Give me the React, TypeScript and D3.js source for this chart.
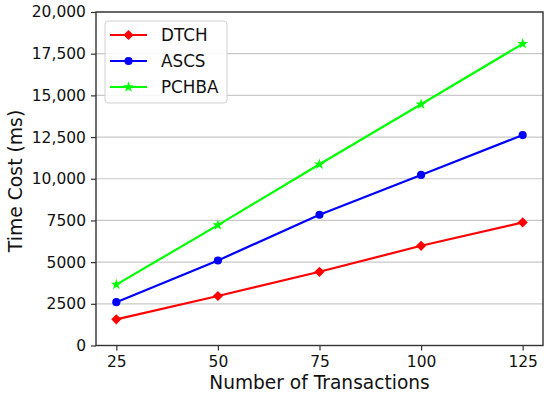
import { useEffect, useRef } from "react";
import * as d3 from "d3";

// values
const transactions = [25, 50, 75, 100, 125];
const dtch = [1570, 2970, 4420, 5980, 7380];
const ascs = [2600, 5100, 7840, 10230, 12620];
const pchba = [3650, 7220, 10870, 14470, 18090];
const yTicks = [0, 2500, 5000, 7500, 10000, 12500, 15000, 17500, 20000];

const seriesNames = ["DTCH", "ASCS", "PCHBA"];
const seriesColors = ["#ff0000", "#0000ff", "#00ff00"];

type Point = { x: number; y: number };

export default function App() {
  const ref = useRef<SVGSVGElement | null>(null);

  useEffect(() => {
    const width = 550,
      height = 395,
      margin = { top: 12, right: 7, bottom: 49.5, left: 96 };
    const svg = d3.select(ref.current);
    svg.selectAll("*").remove();

    const font = "'DejaVu Sans', sans-serif";

    const x = d3
      .scaleLinear()
      .domain([20, 130])
      .range([margin.left, width - margin.right]);
    const y = d3
      .scaleLinear()
      .domain([0, 20000])
      .range([height - margin.bottom, margin.top]);

    // horizontal grid
    svg
      .append("g")
      .selectAll("line")
      .data(yTicks)
      .enter()
      .append("line")
      .attr("x1", margin.left)
      .attr("x2", width - margin.right)
      .attr("y1", d => y(d))
      .attr("y2", d => y(d))
      .attr("stroke", "#c8c8c8")
      .attr("stroke-width", 1.2);

    // X axis
    const fmtY = (d: number) => (d >= 10000 ? d3.format(",")(d) : String(d));
    const xAxis = svg
      .append("g")
      .attr("transform", `translate(0,${height - margin.bottom})`)
      .call(d3.axisBottom(x).tickValues(transactions).tickSize(5).tickPadding(5).tickSizeOuter(0));
    xAxis.select(".domain").remove();
    xAxis.selectAll("line").attr("stroke", "#333").attr("stroke-width", 1.2);
    xAxis
      .selectAll("text")
      .attr("font-family", font)
      .attr("font-size", 15.5)
      .attr("fill", "#111");

    // Y axis
    const yAxis = svg
      .append("g")
      .attr("transform", `translate(${margin.left},0)`)
      .call(
        d3
          .axisLeft(y)
          .tickValues(yTicks)
          .tickSize(5)
          .tickPadding(5)
          .tickFormat(d => fmtY(d as number))
      );
    yAxis.select(".domain").remove();
    yAxis.selectAll("line").attr("stroke", "#333").attr("stroke-width", 1.2);
    yAxis
      .selectAll("text")
      .attr("font-family", font)
      .attr("font-size", 15.5)
      .attr("fill", "#111");

    // Frame
    svg
      .append("rect")
      .attr("x", margin.left)
      .attr("y", margin.top)
      .attr("width", width - margin.left - margin.right)
      .attr("height", height - margin.top - margin.bottom)
      .attr("fill", "none")
      .attr("stroke", "#333")
      .attr("stroke-width", 1.4);

    // Axis labels
    svg
      .append("text")
      .attr("x", (margin.left + width - margin.right) / 2)
      .attr("y", 389)
      .attr("text-anchor", "middle")
      .attr("font-family", font)
      .attr("font-size", 18.6)
      .attr("fill", "#111")
      .text("Number of Transactions");
    svg
      .append("text")
      .attr("transform", `translate(22,181) rotate(-90)`)
      .attr("text-anchor", "middle")
      .attr("font-family", font)
      .attr("font-size", 18.8)
      .attr("fill", "#111")
      .text("Time Cost (ms)");

    // markers
    const diamond = d3.symbol(d3.symbolSquare, 52)()!;
    const circle = d3.symbol(d3.symbolCircle, 52)()!;
    const star = d3.symbol(d3.symbolStar, 38)()!;
    const markers = [diamond, circle, star];
    const rotations = [45, 0, 0];

    const allSeries = [dtch, ascs, pchba];
    const line = d3
      .line<Point>()
      .x(d => x(d.x))
      .y(d => y(d.y));

    allSeries.forEach((vals, i) => {
      const pts: Point[] = transactions.map((t, j) => ({ x: t, y: vals[j] }));
      svg
        .append("path")
        .datum(pts)
        .attr("fill", "none")
        .attr("stroke", seriesColors[i])
        .attr("stroke-width", 2.2)
        .attr("d", line);
      svg
        .append("g")
        .selectAll("path")
        .data(pts)
        .enter()
        .append("path")
        .attr("d", markers[i])
        .attr("transform", d => `translate(${x(d.x)},${y(d.y)}) rotate(${rotations[i]})`)
        .attr("fill", seriesColors[i]);
    });

    // Legend
    const legend = svg.append("g");
    legend
      .append("rect")
      .attr("x", 105)
      .attr("y", 21)
      .attr("width", 122)
      .attr("height", 82)
      .attr("rx", 3)
      .attr("fill", "white")
      .attr("fill-opacity", 0.85)
      .attr("stroke", "#d0d0d0")
      .attr("stroke-width", 1);
    seriesNames.forEach((name, i) => {
      const ly = 35 + i * 26;
      legend
        .append("line")
        .attr("x1", 110)
        .attr("x2", 147)
        .attr("y1", ly)
        .attr("y2", ly)
        .attr("stroke", seriesColors[i])
        .attr("stroke-width", 2.2);
      legend
        .append("path")
        .attr("d", markers[i])
        .attr("transform", `translate(128.5,${ly}) rotate(${rotations[i]})`)
        .attr("fill", seriesColors[i]);
      legend
        .append("text")
        .attr("x", 161)
        .attr("y", ly)
        .attr("dy", "0.36em")
        .attr("font-family", font)
        .attr("font-size", 16.8)
        .attr("fill", "#111")
        .text(name);
    });
  }, []);

  return (
    <svg
      ref={ref}
      width={550}
      height={395}
      style={{ position: "absolute", left: 0, top: 0, background: "white" }}
    />
  );
}
